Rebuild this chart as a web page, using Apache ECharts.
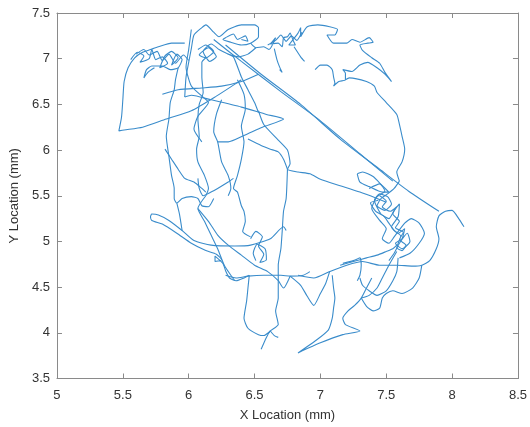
<!DOCTYPE html>
<html><head><meta charset="utf-8">
<script src="https://cdn.jsdelivr.net/npm/echarts@6/dist/echarts.min.js"></script>
<style>html,body{margin:0;padding:0;background:#fff}#c{width:530px;height:427px}</style>
</head><body><div id="c"></div>
<script>
// Axis ticks
const xTicks = [5, 5.5, 6, 6.5, 7, 7.5, 8, 8.5];
const yTicks = [3.5, 4, 4.5, 5, 5.5, 6, 6.5, 7, 7.5];

// Trajectory pieces (x mm, y mm)
const leftArc = [[5.97,7.17],[5.87,7.17],[5.77,7.13],[5.71,7.10],[5.65,7.07],[5.59,7.01],[5.54,6.90],[5.51,6.75],[5.50,6.55],[5.49,6.36],[5.47,6.21],[5.51,6.22],[5.65,6.25],[5.83,6.34],[6.02,6.43],[6.21,6.59],[6.36,6.73],[6.40,6.77]];
const leftCluster = [[5.56,6.99],[5.61,7.07],[5.66,7.03],[5.63,6.96],[5.70,7.00],[5.72,7.10],[5.75,6.99],[5.80,7.02],[5.84,6.95],[5.78,6.90],[5.82,7.03],[5.87,7.08],[5.92,7.01],[5.87,6.93],[5.91,7.05],[5.95,6.99],[5.92,6.90],[5.86,6.88],[5.80,6.92],[5.72,6.92],[5.68,6.88],[5.66,6.79],[5.69,6.85],[5.74,6.90]];
const leftCluster2 = [[5.60,7.05],[5.66,7.10],[5.70,7.04],[5.76,7.08],[5.80,6.98],[5.85,7.05],[5.90,6.95],[5.96,7.04],[6.00,6.98]];
const leftDown = [[5.92,6.90],[5.90,6.77],[5.89,6.66],[5.86,6.52],[5.85,6.34],[5.83,6.15],[5.85,5.93],[5.87,5.72],[5.89,5.58],[5.89,5.47],[5.91,5.42],[5.95,5.47],[6.02,5.49],[6.07,5.47],[6.10,5.39],[6.15,5.38],[6.19,5.47]];
const leftStub = [[5.91,5.42],[5.93,5.30],[5.95,5.12]];
const midDown1 = [[6.13,7.01],[6.10,6.96],[6.10,6.80],[6.11,6.63],[6.08,6.50],[6.07,6.34],[6.08,6.15],[6.06,6.01],[6.07,5.87],[6.12,5.72],[6.15,5.58],[6.13,5.50]];
const midDown2 = [[6.37,6.77],[6.42,6.61],[6.43,6.45],[6.40,6.26],[6.42,6.09],[6.40,5.90],[6.37,5.72],[6.34,5.58],[6.37,5.54],[6.40,5.39],[6.42,5.33],[6.43,5.22],[6.41,5.11],[6.47,5.05]];
const midDown3 = [[6.25,6.55],[6.21,6.39],[6.19,6.20],[6.22,6.09],[6.25,5.87],[6.30,5.72],[6.32,5.58],[6.30,5.50]];
const wedge = [[5.97,6.58],[6.02,6.60],[6.17,6.55],[6.40,6.47],[6.59,6.39],[6.72,6.34],[6.56,6.25],[6.42,6.16],[6.30,6.09],[6.22,6.09]];
const horizA = [[5.80,6.61],[5.92,6.66],[6.10,6.68],[6.25,6.70],[6.40,6.75],[6.53,6.83]];
const star = [[6.07,7.10],[6.13,7.15],[6.19,7.08],[6.13,7.01],[6.08,7.04],[6.15,7.12],[6.21,7.02],[6.16,6.97],[6.11,7.08],[6.17,7.16],[6.23,7.10]];
const topB = [[5.97,6.58],[5.98,6.80],[6.00,6.96],[6.02,7.11],[6.04,7.26],[6.10,7.34],[6.13,7.37],[6.19,7.29],[6.23,7.24],[6.30,7.32],[6.40,7.37],[6.50,7.37],[6.53,7.34],[6.53,7.24],[6.47,7.17],[6.40,7.15],[6.32,7.18],[6.26,7.21],[6.28,7.23],[6.34,7.27],[6.37,7.21],[6.43,7.25],[6.45,7.19],[6.40,7.21]];
const vB = [[6.02,7.32],[6.00,7.10],[5.98,6.91],[6.02,6.70],[6.10,6.59],[6.15,6.52],[6.07,6.37],[6.04,6.23],[6.10,6.09]];
const vB2 = [[6.51,7.12],[6.45,7.05],[6.38,7.02],[6.30,7.05],[6.23,7.10],[6.30,7.05],[6.34,7.02],[6.40,6.80],[6.45,6.66],[6.50,6.52],[6.53,6.41]];
const clusterC = [[6.47,7.17],[6.51,7.12],[6.57,7.13],[6.61,7.10],[6.66,7.23],[6.62,7.16],[6.68,7.17],[6.71,7.13],[6.72,7.23],[6.75,7.24],[6.77,7.28],[6.79,7.21],[6.81,7.15],[6.76,7.15],[6.83,7.28],[6.85,7.34],[6.85,7.24],[6.90,7.35],[6.98,7.37],[7.07,7.35],[7.13,7.32],[7.11,7.26],[7.05,7.26],[7.10,7.17],[7.20,7.17],[7.24,7.21],[7.30,7.18],[7.37,7.23],[7.40,7.18],[7.36,7.17],[7.30,7.15],[7.32,7.09],[7.39,7.01],[7.45,6.95],[7.49,6.85],[7.54,6.75],[7.49,6.83],[7.43,6.90],[7.36,6.96],[7.30,6.93],[7.24,6.86],[7.17,6.88],[7.19,6.84],[7.19,6.77],[7.14,6.75],[7.10,6.70],[7.11,6.73],[7.10,6.80],[7.09,6.88],[7.05,6.93],[7.00,6.93],[6.96,6.88]];
const clusterC2 = [[6.60,7.15],[6.66,7.20],[6.70,7.26],[6.74,7.19],[6.78,7.25],[6.82,7.20],[6.86,7.29]];
const hookC1 = [[6.65,7.11],[6.67,6.99],[6.69,6.91],[6.71,6.85],[6.69,6.88]];
const hookC2 = [[6.80,7.13],[6.85,7.02],[6.88,6.97]];
const rightArc = [[7.19,6.77],[7.22,6.79],[7.35,6.75],[7.41,6.70],[7.43,6.63],[7.50,6.52],[7.58,6.39],[7.60,6.28],[7.62,6.15],[7.64,6.01],[7.62,5.87],[7.58,5.76],[7.60,5.66]];
const diag1 = [[6.19,7.21],[6.40,6.97],[6.70,6.64],[7.00,6.32],[7.30,5.96],[7.55,5.66]];
const diag2 = [[6.28,7.15],[6.55,6.83],[6.85,6.50],[7.15,6.12],[7.45,5.79],[7.67,5.55],[7.90,5.33]];
const midRight = [[6.53,6.43],[6.57,6.28],[6.68,6.11],[6.75,6.00],[6.77,5.85],[6.75,5.79],[6.83,5.76],[6.92,5.74],[7.00,5.68],[7.15,5.61],[7.30,5.54],[7.43,5.47],[7.50,5.43]];
const midBranch = [[6.45,6.12],[6.55,6.05],[6.62,6.01],[6.68,5.98],[6.72,5.90],[6.75,5.79]];
const vertLine = [[6.75,5.79],[6.74,5.47],[6.72,5.33],[6.71,5.11],[6.70,4.92],[6.68,4.74],[6.68,4.60],[6.68,4.38],[6.66,4.24],[6.68,4.09],[6.62,4.02],[6.59,3.95],[6.55,3.82]];
const vertTick = [[6.62,4.02],[6.65,3.97],[6.68,3.95]];
const vertLine2 = [[6.46,4.63],[6.45,4.49],[6.44,4.35],[6.42,4.16],[6.45,4.05],[6.53,3.98],[6.57,3.97],[6.62,4.02]];
const horiz277 = [[6.28,4.63],[6.36,4.60],[6.45,4.62],[6.57,4.63],[6.70,4.63],[6.77,4.62],[6.87,4.63],[6.92,4.67]];
const bottomRight = [[6.83,4.63],[6.95,4.60],[7.07,4.67],[7.20,4.74],[7.32,4.78],[7.45,4.74],[7.58,4.74],[7.70,4.73],[7.77,4.74],[7.83,4.79],[7.88,4.92],[7.90,5.03],[7.88,5.16],[7.90,5.28],[7.95,5.33],[8.00,5.34],[8.05,5.25],[8.09,5.16]];
const vNotch = [[6.77,4.62],[6.85,4.52],[6.90,4.40],[6.95,4.30],[7.00,4.43],[7.04,4.54],[7.07,4.67]];
const lowWedge = [[7.09,4.63],[7.10,4.49],[7.11,4.38],[7.10,4.27],[7.09,4.16],[7.06,4.03],[6.96,3.91],[6.83,3.78],[7.00,3.89],[7.17,3.98],[7.30,4.02],[7.19,4.09],[7.17,4.16],[7.21,4.24],[7.26,4.30],[7.31,4.38],[7.35,4.49],[7.39,4.60]];
const lowLoop = [[7.31,4.38],[7.35,4.29],[7.40,4.24],[7.45,4.27],[7.47,4.38],[7.50,4.43],[7.55,4.46],[7.62,4.43],[7.70,4.49],[7.75,4.60],[7.77,4.74]];
const lowRise = [[7.58,4.89],[7.52,4.74],[7.47,4.60],[7.43,4.49],[7.37,4.41],[7.31,4.38]];
const lowLink = [[7.15,4.74],[7.25,4.78],[7.35,4.82],[7.43,4.85],[7.50,4.89],[7.55,4.92],[7.58,4.96]];
const lowLoop2 = [[7.30,4.60],[7.32,4.52],[7.37,4.46],[7.43,4.41],[7.50,4.46],[7.55,4.57],[7.58,4.67],[7.59,4.82]];
const lowBump = [[7.17,4.76],[7.25,4.79],[7.30,4.82],[7.31,4.74],[7.30,4.63],[7.28,4.57]];
const rightCluster1 = [[7.60,5.66],[7.56,5.58],[7.51,5.52],[7.46,5.47],[7.43,5.39],[7.49,5.34],[7.54,5.41],[7.51,5.49],[7.45,5.52],[7.41,5.45],[7.46,5.30],[7.52,5.25],[7.56,5.34],[7.60,5.41],[7.59,5.27],[7.54,5.16],[7.59,5.09],[7.64,5.14],[7.62,5.03],[7.57,4.98],[7.62,4.92],[7.68,5.00],[7.66,5.09],[7.60,4.98],[7.56,4.87],[7.52,4.79]];
const rightCluster2 = [[7.37,5.58],[7.45,5.63],[7.49,5.55],[7.43,5.49],[7.39,5.36],[7.45,5.23],[7.50,5.14],[7.47,5.03],[7.52,4.98],[7.56,5.05],[7.64,5.20],[7.69,5.25],[7.75,5.20],[7.79,5.09],[7.75,4.98],[7.68,4.87],[7.60,4.82]];
const rightCluster3 = [[7.45,5.50],[7.50,5.44],[7.47,5.38],[7.53,5.33],[7.58,5.38],[7.55,5.30],[7.60,5.22],[7.57,5.15],[7.63,5.10],[7.60,5.02],[7.65,4.96],[7.62,4.90],[7.58,4.93],[7.61,5.06],[7.56,5.12],[7.52,5.20],[7.48,5.28],[7.42,5.33],[7.38,5.42],[7.44,5.45]];
const rightLoop = [[7.28,5.74],[7.32,5.76],[7.40,5.71],[7.47,5.61],[7.52,5.54],[7.47,5.54],[7.37,5.60],[7.30,5.65],[7.28,5.74]];
const hookLeft = [[6.74,5.12],[6.72,5.16],[6.62,5.03],[6.47,4.96],[6.35,4.95],[6.17,4.96],[6.04,5.01],[5.95,5.12],[5.85,5.23],[5.77,5.29],[5.72,5.30],[5.71,5.27],[5.72,5.23],[5.80,5.19],[5.91,5.09],[6.02,4.98],[6.13,4.90],[6.21,4.86],[6.25,4.80],[6.20,4.78],[6.20,4.84],[6.26,4.76],[6.28,4.68],[6.31,4.60],[6.36,4.57],[6.42,4.60],[6.46,4.63]];
const diagMid = [[6.13,5.50],[6.07,5.36],[6.12,5.22],[6.17,5.07],[6.22,4.92],[6.27,4.74],[6.32,4.63],[6.35,4.57]];
const diagMid2 = [[6.07,5.36],[6.15,5.22],[6.22,5.07],[6.30,4.96],[6.40,4.85],[6.50,4.74],[6.60,4.67],[6.68,4.57],[6.72,4.49],[6.77,4.62]];
const scribble = [[6.47,5.03],[6.51,5.11],[6.56,5.05],[6.53,4.95],[6.57,4.86],[6.54,4.77],[6.59,4.80],[6.58,4.92],[6.52,4.97],[6.49,4.87],[6.51,4.79]];
const wave2 = [[6.07,5.69],[6.08,5.58],[6.11,5.50],[6.17,5.54],[6.22,5.58],[6.30,5.65],[6.34,5.69]];
const diagUL = [[5.82,6.01],[5.87,5.90],[5.92,5.79],[5.97,5.69],[6.04,5.65],[6.10,5.58],[6.13,5.54]];

const pieces = [leftArc, leftCluster, leftCluster2, leftDown, leftStub, midDown1, midDown2, midDown3, wedge, horizA, star, topB, vB, vB2,
  clusterC, clusterC2, hookC1, hookC2, rightArc, diag1, diag2, midRight, midBranch, vertLine, vertTick, vertLine2, horiz277,
  bottomRight, vNotch, lowWedge, lowLoop, lowRise, lowLink, lowLoop2, lowBump, rightCluster1, rightCluster2, rightCluster3, rightLoop,
  hookLeft, diagMid, diagMid2, scribble, wave2, diagUL];

const lineColor = '#3a8ccb';
const axisColor = '#8a8a8a';
const textColor = '#333333';
const font = 'Liberation Sans, Arial, Helvetica, sans-serif';

const chart = echarts.init(document.getElementById('c'), null, {renderer: 'canvas'});
const xCommon = {type: 'value', min: xTicks[0], max: xTicks[xTicks.length - 1], interval: 0.5, splitLine: {show: false},
  axisLine: {show: true, onZero: false, lineStyle: {color: axisColor, width: 1}},
  axisTick: {show: true, inside: true, length: 5, lineStyle: {color: axisColor}}};
const yCommon = {type: 'value', min: yTicks[0], max: yTicks[yTicks.length - 1], interval: 0.5, splitLine: {show: false},
  axisLine: {show: true, onZero: false, lineStyle: {color: axisColor, width: 1}},
  axisTick: {show: true, inside: true, length: 5, lineStyle: {color: axisColor}}};

chart.setOption({
  animation: false,
  backgroundColor: '#ffffff',
  grid: {left: 54, right: 10, top: 13, bottom: 46, containLabel: false},
  xAxis: [
    Object.assign({}, xCommon, {position: 'bottom', name: 'X Location (mm)', nameLocation: 'middle', nameGap: 37,
      nameTextStyle: {color: textColor, fontSize: 13, fontFamily: font, verticalAlign: 'middle'},
      axisLabel: {color: textColor, fontSize: 13, fontFamily: font, margin: 10, formatter: v => String(v)}}),
    Object.assign({}, xCommon, {position: 'top', axisLabel: {show: false}})
  ],
  yAxis: [
    Object.assign({}, yCommon, {position: 'left', name: 'Y Location (mm)', nameLocation: 'middle', nameGap: 39,
      nameTextStyle: {color: textColor, fontSize: 13, fontFamily: font, verticalAlign: 'middle'},
      axisLabel: {color: textColor, fontSize: 13, fontFamily: font, margin: 7, formatter: v => String(v)}}),
    Object.assign({}, yCommon, {position: 'right', axisLabel: {show: false}})
  ],
  series: pieces.map(p => ({type: 'line', xAxisIndex: 0, yAxisIndex: 0, data: p, showSymbol: false, symbol: 'none',
    smooth: 0.2, lineStyle: {color: lineColor, width: 1.1}, silent: true}))
});
</script></body></html>
